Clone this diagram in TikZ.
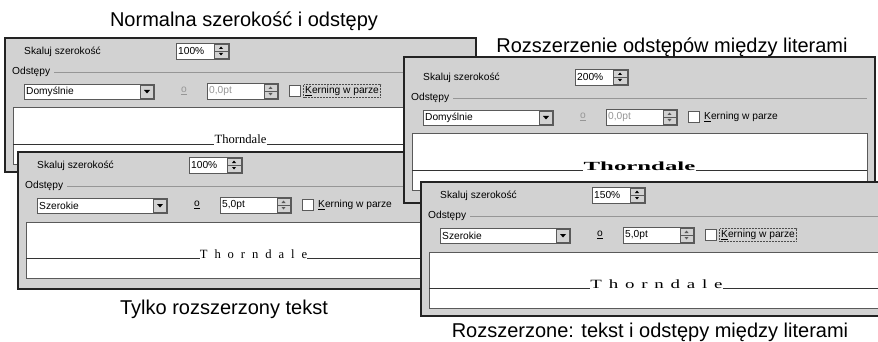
\documentclass[tikz,border=0pt]{standalone}
\usepackage{fontspec}
\setmainfont{Liberation Sans}
\newfontfamily\thorn{Liberation Serif}
\newfontfamily\thornwide[LetterSpace=55]{Liberation Serif}
\newfontfamily\thornmid[LetterSpace=36]{Liberation Serif}
\definecolor{dlggray}{RGB}{210,210,210}
\definecolor{dlgdark}{RGB}{35,35,35}
\definecolor{dlgshade}{RGB}{90,90,90}
\definecolor{dlgdim}{RGB}{150,150,150}

\tikzset{
	dlgpanel/.style={draw=dlgdark,line width=1.6pt,fill=dlggray},
	dlgfield/.style={draw=dlgshade,fill=white,line width=0.8pt},
	dlgbutton/.style={draw=dlgshade,fill=dlggray,line width=0.6pt},
	dlgtext/.style={font=\fontsize{10.2}{12}\selectfont,inner sep=0pt},
	fieldon/.style={dlgtext},
	fieldoff/.style={dlgtext,text=dlgdim},
	groove/.style={draw=dlgdim,line width=0.6pt},
	previewbox/.style={draw=dlgshade,fill=white,line width=1pt},
	sampleline/.style={draw=black!80,line width=0.8pt},
	sample/.style={inner sep=0pt,font=\thorn\fontsize{12.6}{14}\selectfont},
	samplebold/.style={inner sep=0pt,font=\thorn\bfseries\fontsize{12.4}{14}\selectfont},
	samplewide/.style={inner sep=0pt,font=\thornwide\fontsize{12.6}{14}\selectfont},
	samplemid/.style={inner sep=0pt,font=\thornmid\fontsize{12.6}{14}\selectfont},
	focusbox/.style={draw=black!70,densely dotted,line width=0.5pt},
	captiontext/.style={font=\fontsize{20}{24}\selectfont,inner sep=0pt},
}

% one dialog: name, x, y, height, top pad, scale, list entry, spacing, spacing style
\newcommand{\dialog}[9]{%
	\begin{scope}[shift={(#2,#3)}]
		\draw[dlgpanel] (0,0) rectangle (471,#4);
		% width scale
		\node[dlgtext,anchor=west] (#1-scale) at (19,14+#5) {Skaluj szerokość};
		\draw[dlgfield] (171,5+#5) rectangle (224,21+#5);
		\node[dlgtext,anchor=west] (#1-spin) at (173,13+#5) {#6};
		\draw[dlgbutton] (209,6+#5) rectangle (223,20+#5);
		\draw[dlgshade,line width=0.4pt] (209,13+#5) -- (223,13+#5);
		\fill (216,8.5+#5) -- (214,11+#5) -- (218,11+#5) -- cycle;
		\fill (216,17.5+#5) -- (214,15+#5) -- (218,15+#5) -- cycle;
		% spacing group
		\node[dlgtext,anchor=west] (#1-group) at (7,34+#5) {Odstępy};
		\draw[groove] ([xshift=4pt]#1-group.east) -- (463,34+#5);
		\draw[dlgfield] (19,46+#5) rectangle (149,61+#5);
		\node[dlgtext,anchor=west] (#1-list) at (21,53.5+#5) {#7};
		\draw[dlgbutton] (135,47+#5) rectangle (148,60+#5);
		\fill (139,52+#5) -- (145,52+#5) -- (142,55.5+#5) -- cycle;
		\node[#9] (#1-by) at (179,53+#5) {\underline{o}};
		\draw[dlgfield] (202,45+#5) rectangle (273,61+#5);
		\node[#9,anchor=west] (#1-pt) at (204,53+#5) {#8};
		\draw[dlgbutton] (259,46+#5) rectangle (272,60+#5);
		\draw[dlgshade,line width=0.4pt] (259,53+#5) -- (272,53+#5);
		\fill[dlgshade] (265.5,48.5+#5) -- (263.5,51+#5) -- (267.5,51+#5) -- cycle;
		\fill[dlgshade] (265.5,57.5+#5) -- (263.5,55+#5) -- (267.5,55+#5) -- cycle;
		\draw[dlgfield] (284,47+#5) rectangle (295,58+#5);
		\node[dlgtext,anchor=west] (#1-kern) at (300,53+#5) {\underline{K}erning w parze};
		% preview
		\draw[previewbox] (8,70+#5) rectangle (463,126+#5);
		\coordinate (#1-left) at (8,106+#5);
		\coordinate (#1-mid) at (235.5,106+#5);
		\coordinate (#1-right) at (463,106+#5);
	\end{scope}}

\begin{document}
\begin{tikzpicture}[x=1pt,y=-1pt]
	\useasboundingbox (0,0) rectangle (878,342);
	\clip (0,0) rectangle (878,342);

	\dialog{nrm}{5}{38}{134}{0}{100\%}{Domyślnie}{0,0pt}{fieldoff}
	\node[sample,anchor=base] (nrm-text) at (nrm-mid) {Thorndale};
	\draw[sampleline] (nrm-left) -- (nrm-text.base west) (nrm-text.base east) -- (nrm-right);
	\draw[focusbox] ([shift={(-1.5pt,-1.5pt)}]nrm-kern.south west) rectangle ([shift={(1.5pt,1.5pt)}]nrm-kern.north east);

	\dialog{txt}{18}{152}{137}{0}{100\%}{Szerokie}{5,0pt}{fieldon}
	\node[samplewide,anchor=base] (txt-text) at (txt-mid) {Thorndale};
	\draw[sampleline] (txt-left) -- (txt-text.base west) (txt-text.base east) -- (txt-right);

	\dialog{gap}{404}{57}{146}{7}{200\%}{Domyślnie}{0,0pt}{fieldoff}
	\node[samplebold,anchor=base,xscale=2] (gap-text) at (gap-mid) {Thorndale};
	\draw[sampleline] (gap-left) -- (gap-text.base west) (gap-text.base east) -- (gap-right);

	\dialog{all}{421}{182}{134}{0}{150\%}{Szerokie}{5,0pt}{fieldon}
	\node[samplemid,anchor=base,xscale=1.5] (all-text) at (all-mid) {Thorndale};
	\draw[sampleline] (all-left) -- (all-text.base west) (all-text.base east) -- (all-right);
	\draw[focusbox] ([shift={(-1.5pt,-1.5pt)}]all-kern.south west) rectangle ([shift={(1.5pt,1.5pt)}]all-kern.north east);

	% captions
	\node[captiontext,anchor=base] (cap-nrm) at (244,27) {Normalna szerokość i odstępy};
	\node[captiontext,anchor=base] (cap-gap) at (672,53) {Rozszerzenie odstępów między literami};
	\node[captiontext,anchor=base] (cap-txt) at (224,314) {Tylko rozszerzony tekst};
	\node[captiontext,anchor=base] (cap-all) at (650,337) {Rozszerzone: tekst i odstępy między literami};
\end{tikzpicture}
\end{document}
